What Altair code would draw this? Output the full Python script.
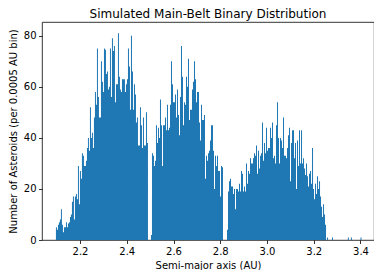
import altair as alt
import pandas as pd

# Histogram columns (one column per ~0.00428 AU)
first_bin_au = 2.097
bin_au = 0.00428

# inner belt: 2.10 - ~2.49 AU
inner_belt = [5, 4, 6, 7, 8, 12, 6, 3, 5, 5, 7, 5, 6.5, 7, 9, 10, 15, 17, 8, 17,
              18, 16, 29, 14, 27, 24, 34, 33, 29, 29, 31, 36, 40, 35, 52, 40, 42, 36, 48, 58,
              53, 75, 56, 48,
              48, 70, 62, 58, 75, 74.5, 65, 66, 59, 60, 75, 56, 79, 74, 76, 54, 61, 61, 81, 64,
              59, 58, 63, 63, 63, 58, 61, 63, 75, 68, 51, 80, 66, 51, 61, 57, 46, 48, 37, 37,
              52, 45, 36, 48, 37, 37, 50, 38]
# middle belt: ~2.50 - ~2.82 AU (incl. 3:1 and 5:2 gaps)
middle_belt = [0, 0, 0, 2,
               34, 33, 29, 31, 45, 38, 44, 40, 55, 45, 29, 45, 45, 48, 43, 53, 43, 44, 53, 70,
               61, 54, 54, 57, 48, 59, 49, 41, 56, 76, 64, 45, 54, 53, 64, 60, 71, 47, 51, 51, 59,
               62, 70, 63, 54, 58, 58, 46, 39, 53, 47, 47, 49, 24, 33, 31, 34, 35, 39, 45, 45,
               35, 20, 33, 29, 33, 27, 27, 17, 29, 28.5, 0, 0, 0, 0, 4, 19, 23, 24, 21, 21, 18,
               20, 12, 20, 20, 19]
# outer belt: ~2.83 - 3.26 AU
outer_belt = [22, 19, 27, 26, 19, 21, 19, 30, 22, 27, 26, 32, 30, 30, 32, 34, 33, 37, 26, 35,
              28, 33, 34, 46, 31, 38, 34, 44, 35, 36, 36, 44, 40, 46, 32, 33, 30, 45, 54, 40,
              30, 40, 39, 36, 48, 33,
              33, 32, 36, 41, 44, 23, 38, 43, 43, 32, 38, 20, 39, 29, 43, 30, 43, 30, 32, 28,
              25.5, 30, 25, 21, 26, 27, 22, 36, 20, 16, 22, 18, 25, 20, 23, 17, 13, 9, 14, 10,
              6, 0, 1]
# isolated far-out bins
tail_au = [3.278, 3.346, 3.359, 3.400]
tail_counts = [1, 1, 1, 1]

counts = inner_belt + middle_belt + outer_belt
edges = [first_bin_au + i * bin_au for i in range(len(counts) + 1)]
main_df = pd.DataFrame({"a": edges, "n": counts + [0]})
tail_df = pd.DataFrame({"a": tail_au, "a2": [v + bin_au for v in tail_au], "n": tail_counts})

BLUE = "#1f77b4"
FONT = "DejaVu Sans"
xscale = alt.Scale(domain=[2.0374, 3.4578], nice=False, zero=False)
yscale = alt.Scale(domain=[0, 85.4], nice=False)

xaxis = alt.Axis(values=[2.2, 2.4, 2.6, 2.8, 3.0, 3.2, 3.4], format=".1f",
                 title="Semi-major axis (AU)", titlePadding=4)
yaxis = alt.Axis(values=list(range(0, 81, 10)),
                 title="Number of Asteroids (per 0.0005 AU bin)", titlePadding=5)

area = alt.Chart(main_df).mark_area(interpolate="step-after", color=BLUE).encode(
    x=alt.X("a:Q", scale=xscale, axis=xaxis),
    y=alt.Y("n:Q", scale=yscale, axis=yaxis),
)
tail = alt.Chart(tail_df).mark_rect(color=BLUE).encode(
    x=alt.X("a:Q", scale=xscale),
    x2="a2:Q",
    y=alt.Y("n:Q", scale=yscale),
    y2=alt.datum(0),
)

chart = (area + tail).properties(
    width=332, height=218,
    title=alt.TitleParams("Simulated Main-Belt Binary Distribution", fontSize=12,
                          font=FONT, fontWeight="normal", color="#000", anchor="middle",
                          offset=1.5),
    autosize=alt.AutoSizeParams(type="none"),
    padding={"left": 34, "top": 14, "right": 0, "bottom": 30},
).configure_view(stroke="#000", strokeWidth=0.8).configure_axis(
    grid=False, domain=False, labelFont=FONT, labelFontSize=10, labelColor="#000",
    titleFont=FONT, titleFontSize=10, titleFontWeight="normal", titleColor="#000",
    tickColor="#000", tickSize=3.5, tickWidth=0.8, labelPadding=2.5,
)

chart.save("out.html", embed_options={"renderer": "svg", "actions": False})
